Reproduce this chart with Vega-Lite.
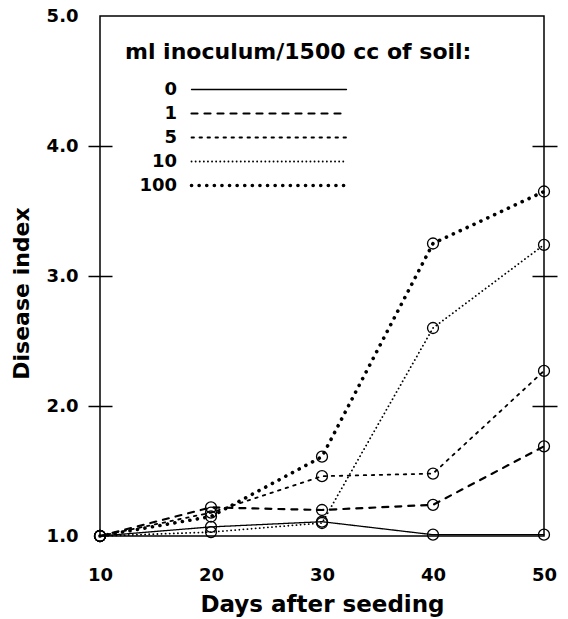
{
  "$schema": "https://vega.github.io/schema/vega-lite/v6.json",
  "width": 444,
  "height": 520,
  "autosize": "none",
  "padding": {"left": 100, "top": 16, "right": 24, "bottom": 83},
  "config": {
    "font": "DejaVu Sans",
    "view": {"stroke": "black", "strokeWidth": 1.5},
    "axis": {"labelColor": "black", "titleColor": "black", "tickColor": "black", "domainColor": "black", "grid": false, "labelFlush": false},
    "legend": {"labelColor": "black", "titleColor": "black"}
  },
  "data": {
    "values": [
      {"ml": "0", "day": 10, "index": 1.0},
      {"ml": "0", "day": 20, "index": 1.07},
      {"ml": "0", "day": 30, "index": 1.11},
      {"ml": "0", "day": 40, "index": 1.01},
      {"ml": "0", "day": 50, "index": 1.01},
      {"ml": "1", "day": 10, "index": 1.0},
      {"ml": "1", "day": 20, "index": 1.22},
      {"ml": "1", "day": 30, "index": 1.2},
      {"ml": "1", "day": 40, "index": 1.24},
      {"ml": "1", "day": 50, "index": 1.69},
      {"ml": "5", "day": 10, "index": 1.0},
      {"ml": "5", "day": 20, "index": 1.18},
      {"ml": "5", "day": 30, "index": 1.46},
      {"ml": "5", "day": 40, "index": 1.48},
      {"ml": "5", "day": 50, "index": 2.27},
      {"ml": "10", "day": 10, "index": 1.0},
      {"ml": "10", "day": 20, "index": 1.03},
      {"ml": "10", "day": 30, "index": 1.1},
      {"ml": "10", "day": 40, "index": 2.6},
      {"ml": "10", "day": 50, "index": 3.24},
      {"ml": "100", "day": 10, "index": 1.0},
      {"ml": "100", "day": 20, "index": 1.15},
      {"ml": "100", "day": 30, "index": 1.61},
      {"ml": "100", "day": 40, "index": 3.25},
      {"ml": "100", "day": 50, "index": 3.65}
    ]
  },
  "layer": [
    {
      "mark": {"type": "line", "color": "black", "strokeCap": "round"},
      "encoding": {
        "x": {
          "field": "day", "type": "quantitative",
          "scale": {"domain": [10, 50], "nice": false, "zero": false},
          "axis": {
            "values": [10, 20, 30, 40, 50], "format": "d", "domain": false, "ticks": false,
            "labelPadding": 30, "labelFontSize": 18, "labelFontWeight": "bold",
            "title": "Days after seeding", "titleFontSize": 23, "titleFontWeight": "bold", "titlePadding": 9
          }
        },
        "y": {
          "field": "index", "type": "quantitative",
          "scale": {"domain": [1, 5], "nice": false, "zero": false},
          "axis": {
            "orient": "left", "values": [1, 2, 3, 4, 5], "format": ".1f", "domain": false,
            "offset": -12, "tickSize": 24, "tickWidth": 1.5,
            "tickOpacity": {"condition": {"test": "datum.value == 1 || datum.value == 5", "value": 0}, "value": 1},
            "labelPadding": 10, "labelFontSize": 18, "labelFontWeight": "bold",
            "title": "Disease index", "titleFontSize": 22, "titleFontWeight": "bold",
            "titleX": -79, "titleY": 277
          }
        },
        "strokeDash": {
          "field": "ml", "type": "nominal",
          "scale": {"domain": ["0", "1", "5", "10", "100"], "range": [[1, 0], [6, 7], [2.5, 5.5], [0.1, 4], [0.1, 7.5]]},
          "legend": {
            "title": "ml inoculum/1500 cc of soil:", "orient": "none", "legendX": 25, "legendY": 26,
            "direction": "vertical", "padding": 0,
            "titleFontSize": 22, "titleFontWeight": "bold", "titlePadding": 14, "titleLimit": 0,
            "labelFontSize": 18, "labelFontWeight": "bold", "labelAlign": "right", "labelLimit": 0,
            "symbolSize": 24025, "symbolType": "stroke",
            "symbolStrokeColor": "black", "rowPadding": 3,
            "encode": {
              "symbols": {"update": {"strokeCap": {"value": "round"}, "x": {"value": 144}, "y": {"value": 11.5}}},
              "labels": {"update": {"x": {"value": 52}, "y": {"value": 11.5}}}
            }
          }
        },
        "strokeWidth": {
          "field": "ml", "type": "nominal",
          "scale": {"type": "ordinal", "domain": ["0", "1", "5", "10", "100"], "range": [1.3, 2.2, 1.8, 1.8, 3.6]},
          "legend": {
            "title": "ml inoculum/1500 cc of soil:", "orient": "none", "legendX": 25, "legendY": 26,
            "direction": "vertical", "padding": 0,
            "titleFontSize": 22, "titleFontWeight": "bold", "titlePadding": 14, "titleLimit": 0,
            "labelFontSize": 18, "labelFontWeight": "bold", "labelAlign": "right", "labelLimit": 0,
            "symbolSize": 24025, "symbolType": "stroke",
            "symbolStrokeColor": "black", "rowPadding": 3,
            "encode": {
              "symbols": {"update": {"strokeCap": {"value": "round"}, "x": {"value": 144}, "y": {"value": 11.5}}},
              "labels": {"update": {"x": {"value": 52}, "y": {"value": 11.5}}}
            }
          }
        }
      }
    },
    {
      "mark": {"type": "point", "shape": "circle", "size": 120, "filled": false, "color": "black", "strokeWidth": 1.3, "opacity": 1},
      "encoding": {
        "x": {"field": "day", "type": "quantitative"},
        "y": {
          "field": "index", "type": "quantitative",
          "axis": {
            "orient": "right", "values": [2, 3, 4], "labels": false, "domain": false,
            "offset": -12, "tickSize": 25, "tickWidth": 1.5, "title": null
          }
        }
      }
    }
  ],
  "resolve": {"axis": {"y": "independent"}}
}
